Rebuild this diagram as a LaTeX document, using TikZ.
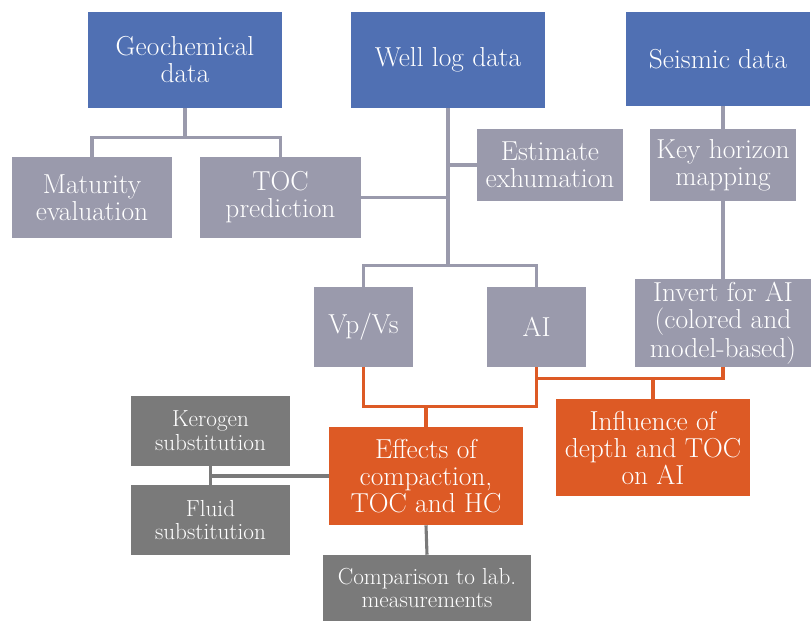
\documentclass[tikz,border=0pt]{standalone}
\usepackage{xcolor}
\usepackage{tikz}
\usetikzlibrary{positioning,fit,calc}

\definecolor{blueC}{HTML}{5070B3}
\definecolor{grayC}{HTML}{9A9AAC}
\definecolor{darkC}{HTML}{7A7A7A}
\definecolor{orangeC}{HTML}{DD5A25}

\begin{document}
\begin{tikzpicture}[x=0.025cm, y=-0.025cm]
		\tikzset{box/.style={inner sep=0pt, align=center, text=white, font=\fontsize{19.5}{19.2}\selectfont},
			small/.style={box, font=\fontsize{16.5}{17}\selectfont},
			gline/.style={draw=grayC, line width=2.2pt},
			oline/.style={draw=orangeC, line width=2.4pt},
			dline/.style={draw=darkC, line width=2.2pt}}
		\useasboundingbox (0,0) rectangle (811,621);

		% top row
		\node[fit={(88,12) (282,108)}, inner sep=0pt, fill=blueC, label={[box]center:Geochemical\\data}] (geo) {};
		\node[fit={(351,12) (545,108)}, inner sep=0pt, fill=blueC, label={[box]center:Well log data}] (well) {};
		\node[fit={(626,12) (810,106)}, inner sep=0pt, fill=blueC, label={[box]center:Seismic data}] (seis) {};

		% second row
		\node[fit={(12,157) (172,238)}, inner sep=0pt, fill=grayC, label={[box]center:Maturity\\evaluation}] (mat) {};
		\node[fit={(200,157) (361,238)}, inner sep=0pt, fill=grayC, label={[box]center:TOC\\prediction}] (toc) {};
		\node[fit={(477,129) (623,201)}, inner sep=0pt, fill=grayC, label={[box]center:Estimate\\exhumation}] (est) {};
		\node[fit={(650,129) (796,201)}, inner sep=0pt, fill=grayC, label={[box]center:Key horizon\\mapping}] (key) {};

		% third row
		\node[fit={(314,287) (413,367)}, inner sep=0pt, fill=grayC, label={[box]center:Vp/Vs}] (vpvs) {};
		\node[fit={(487,287) (586,367)}, inner sep=0pt, fill=grayC, label={[box]center:AI}] (ai) {};
		\node[fit={(635,279) (811,367)}, inner sep=0pt, fill=grayC, label={[box]center:Invert for AI\\(colored and\\model-based)}] (inv) {};

		% results
		\node[fit={(329,427) (523,525)}, inner sep=0pt, fill=orangeC, label={[box]center:Effects of\\compaction,\\TOC and HC}] (eff) {};
		\node[fit={(556,399) (750,496)}, inner sep=0pt, fill=orangeC, label={[box]center:Influence of\\depth and TOC\\on AI}] (infl) {};

		\node[fit={(131,396) (290,466)}, inner sep=0pt, fill=darkC, label={[small]center:Kerogen\\substitution}] (ker) {};
		\node[fit={(131,485) (290,555)}, inner sep=0pt, fill=darkC, label={[small]center:Fluid\\substitution}] (flu) {};
		\node[fit={(323,555) (531,621)}, inner sep=0pt, fill=darkC, label={[small]center:Comparison to lab.\\measurements}] (cmp) {};

		% connectors
		\draw[gline] (geo.south) -- ++(0,29) coordinate (g1);
		\draw[gline] (mat.north) |- (g1) -| (toc.north);

		\draw[gline] (well.south) -- ++(0,157) coordinate (w1);
		\draw[gline] (vpvs.north) |- (w1) -| (ai.north);
		\draw[gline] (est.west) -- (est.west -| well.south);
		\draw[gline] (toc.east) -- (toc.east -| well.south);

		\draw[gline] (seis.south -| key.north) -- (key.north);
		\draw[gline] (key.south) -- (inv.north);

		\draw[oline] (vpvs.south) -- ++(0,39) coordinate (o1) -| (ai.south);
		\draw[oline] (o1 -| eff.north) -- (eff.north);
		\path (ai.south) -- ++(0,11) coordinate (o2);
		\draw[oline] (o2) -| (inv.south);
		\draw[oline] (o2 -| infl.north) -- (infl.north);

		\draw[dline] (eff.west) -- (eff.west -| ker.south);
		\draw[dline] (ker.south) -- (flu.north);
		\draw[dline] (eff.south) -- (cmp.north);

	\end{tikzpicture}
\end{document}
